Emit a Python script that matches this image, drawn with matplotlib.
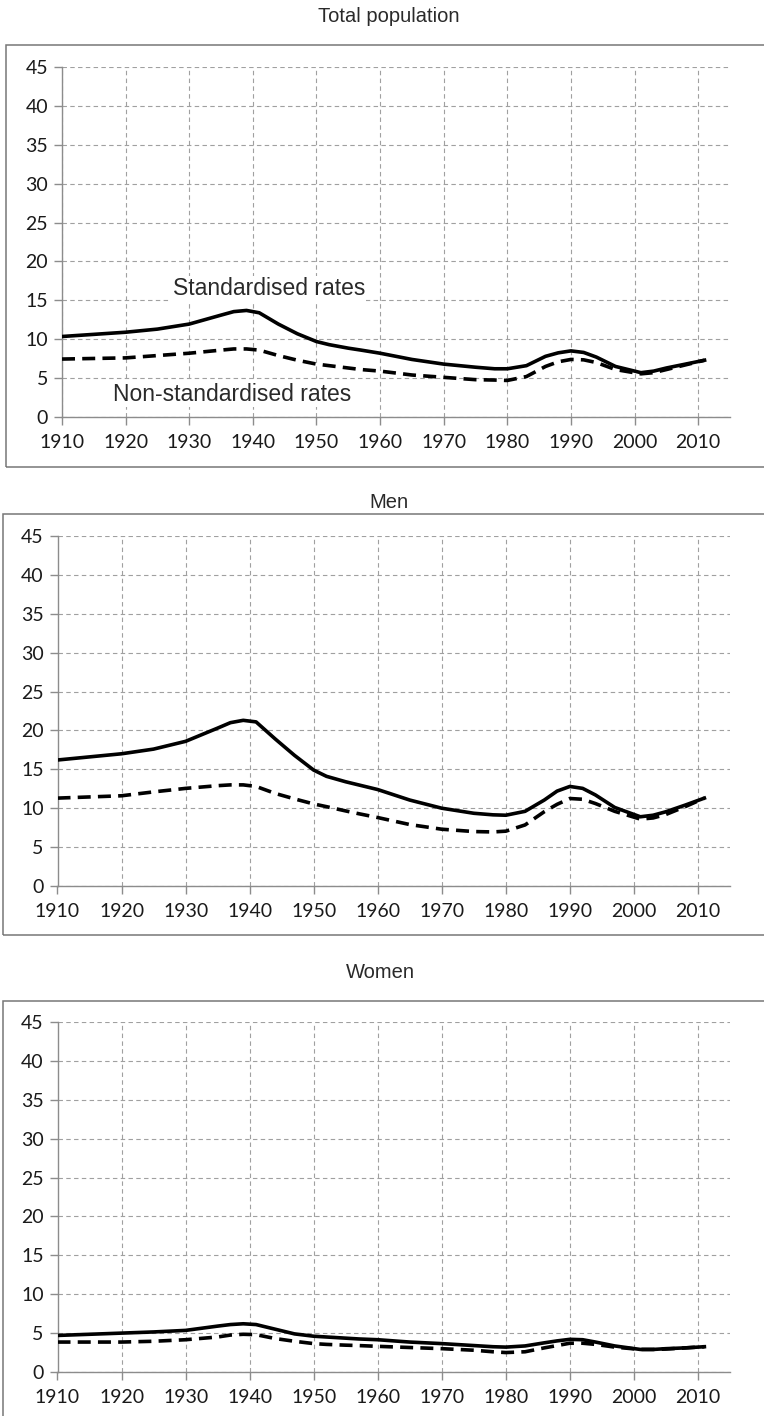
import matplotlib.pyplot as plt
from matplotlib.patches import Rectangle

# years
years = [1910, 1920, 1925, 1930, 1935, 1937, 1939, 1941, 1944, 1947, 1950, 1952,
         1955, 1957, 1960, 1965, 1970, 1975, 1978, 1980, 1983, 1986, 1988, 1990,
         1992, 1994, 1997, 2001, 2003, 2005, 2008, 2011]

total_std = [10.35, 10.9, 11.3, 11.95, 13.1, 13.55, 13.7, 13.4, 11.95, 10.7, 9.7, 9.3,
             8.85, 8.6, 8.2, 7.4, 6.8, 6.4, 6.2, 6.2, 6.6, 7.8, 8.25, 8.5,
             8.3, 7.7, 6.5, 5.7, 5.9, 6.3, 6.8, 7.3]
total_nonstd = [7.45, 7.6, 7.9, 8.2, 8.6, 8.75, 8.75, 8.6, 7.9, 7.3, 6.8, 6.6,
                6.3, 6.1, 5.9, 5.4, 5.1, 4.8, 4.75, 4.7, 5.2, 6.5, 7.1, 7.4,
                7.35, 7.0, 6.1, 5.55, 5.7, 6.1, 6.7, 7.3]

men_std = [16.2, 17.0, 17.6, 18.6, 20.3, 21.0, 21.3, 21.1, 18.9, 16.8, 14.9, 14.1,
           13.4, 13.0, 12.4, 11.05, 10.0, 9.35, 9.15, 9.1, 9.6, 11.05, 12.2, 12.8,
           12.55, 11.7, 10.1, 8.9, 9.1, 9.55, 10.4, 11.3]
men_nonstd = [11.3, 11.6, 12.1, 12.55, 12.9, 13.0, 13.0, 12.8, 11.9, 11.2, 10.55, 10.2,
              9.65, 9.3, 8.8, 7.9, 7.3, 7.0, 6.95, 7.05, 7.85, 9.55, 10.5, 11.25,
              11.15, 10.6, 9.6, 8.6, 8.75, 9.2, 10.2, 11.3]

women_std = [4.7, 5.0, 5.15, 5.35, 5.9, 6.1, 6.2, 6.1, 5.5, 4.9, 4.6, 4.5,
             4.35, 4.25, 4.15, 3.85, 3.65, 3.4, 3.25, 3.2, 3.35, 3.75, 4.0, 4.2,
             4.15, 3.85, 3.35, 2.9, 2.9, 3.0, 3.1, 3.25]
women_nonstd = [3.85, 3.85, 3.95, 4.15, 4.5, 4.75, 4.85, 4.8, 4.3, 3.95, 3.65, 3.55,
                3.45, 3.4, 3.3, 3.15, 3.0, 2.8, 2.6, 2.5, 2.6, 3.1, 3.4, 3.7,
                3.7, 3.55, 3.2, 2.9, 2.9, 2.95, 3.1, 3.25]

xticks = list(range(1910, 2011, 10))
yticks = list(range(0, 46, 5))

panels = [
    ("Total population", total_std, total_nonstd),
    ("Men", men_std, men_nonstd),
    ("Women", women_std, women_nonstd),
]

W, H = 764, 1416
fig = plt.figure(figsize=(W / 100, H / 100), dpi=100)

# pixel layout: (axes left, y of 0 line, frame left, frame top, frame bottom, title y)
layout = [
    (62, 417, 6, 45, 467, 16),
    (57.5, 886, 3, 514, 935, 503),
    (57.5, 1372, 3, 1001, 1420, 972),
]
title_x = [389, 389, 380]

grey = '#8c8c8c'
for i, (title, std, nonstd) in enumerate(panels):
    axl, y0, fl, ft, fb, ty = layout[i]
    # outer frame
    fig.patches.append(Rectangle((fl / W, 1 - fb / H), (W + 5 - fl) / W, (fb - ft) / H,
                                 transform=fig.transFigure, fill=False,
                                 edgecolor='#777777', linewidth=1.1))
    fig.text(title_x[i] / W, 1 - ty / H, title, ha='center', va='center',
             fontsize=14.5, family='Liberation Sans', color='#2a2a2a')

    ax = fig.add_axes([axl / W, 1 - y0 / H, (730 - axl) / W, 350 / H])
    ax.plot(years, std, color='black', lw=2.6, solid_joinstyle='round', zorder=4)
    ax.plot(years, nonstd, color='black', lw=2.6, dashes=(3.6, 2.0),
            dash_joinstyle='round', zorder=4)

    ax.set_xlim(1910, 2015)
    ax.set_ylim(0, 45)
    ax.set_xticks(xticks)
    ax.set_yticks(yticks)
    ax.grid(True, color='#a0a0a0', linestyle=(0, (4, 3)), linewidth=0.8)
    for s in ['top', 'right']:
        ax.spines[s].set_visible(False)
    for s in ['left', 'bottom']:
        ax.spines[s].set_color(grey)
        ax.spines[s].set_linewidth(1.0)
    ax.spines['left'].set_zorder(3)
    ax.tick_params(colors=grey, length=6, width=1, labelcolor='#1a1a1a',
                   labelsize=14, labelfontfamily='Lato')
    ax.tick_params(axis='x', pad=6)
    ax.tick_params(axis='y', pad=4)
    ax.set_facecolor('none')

    if i == 0:
        ax.text(1927.4, 16.5, "Standardised rates", fontsize=16.5, family='Liberation Sans',
                color='#2a2a2a', va='center', ha='left', zorder=5,
                bbox=dict(facecolor='white', edgecolor='none', pad=1))
        ax.text(1918.0, 2.95, "Non-standardised rates", fontsize=16.5, family='Liberation Sans',
                color='#2a2a2a', va='center', ha='left', zorder=5,
                bbox=dict(facecolor='white', edgecolor='none', pad=1))

fig.savefig('out.png', dpi=100, facecolor='white')
